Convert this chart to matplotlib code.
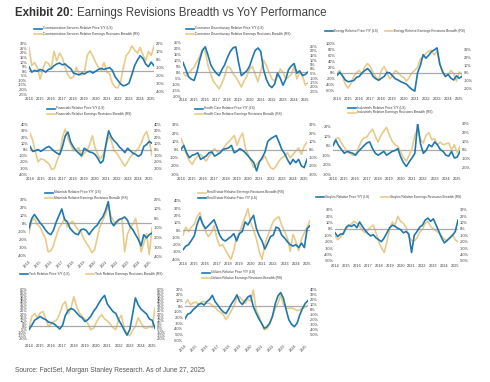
import numpy as np
import matplotlib.pyplot as plt
from matplotlib.lines import Line2D

plt.rcParams['font.family'] = ['Liberation Sans', 'DejaVu Sans']

W, H = 490, 382
BLUE = '#1f78ae'
TAN = '#e8cb8b'
GRAY = '#a9a9a9'
TXT = '#3a3a3a'
LW = 1.2

# quarterly dates, 2014 Q1 .. 2025 Q2
dates = 2014 + np.arange(46) / 4

comm_price = [5, -1, 1, 0, 2, 1, -1, 2, 3, 6, 8, 9, 7, 8, 5, 3, -2, -3, -4, -2, -3, -1, 0, -2,
              0, 2, 3, 2, 3, 4, 1, -6, -10, -14, -16, -15, -13, -4, 6, 12, 17, 14, 8, 5, 10, 6]
comm_breadth = [15, -8, -4, -10, -25, -12, -3, -5, -12, 10, -2, 8, 2, -10, -20, -24, -22, -10, -18, -20,
                -15, 5, 11, 4, -4, -10, -14, -4, -16, -18, -30, -35, -36, -28, -10, 5, 9, 17, 12, 8,
                15, 6, -2, 10, 5, 17]

disc_price = [8, 2, -4, -6, -7, 0, 10, 18, 21, 14, 6, 2, -1, -3, 2, 6, 12, 17, 20, 21, 8, -3, -1, 1,
              5, 12, 18, 20, 17, 2, -6, -11, -13, -10, -1, -5, -11, -6, 2, 5, 7, -1, 1, -3, -2, 0]
disc_breadth = [-4, -8, -5, -1, 2, 8, 14, 22, 20, 4, -6, -14, -18, -22, -16, -8, 3, 1, -5, -9, -14, -20,
                -13, -8, 0, 3, -6, -14, -2, 10, 4, -4, -11, -13, -9, 0, -4, -11, -9, -6, 3, -11, -4,
                -7, -18, -15]

energy_price = [-8, 2, -10, -24, -30, -28, -26, -15, -12, 0, 8, 15, 5, -12, -20, -25, -18, -12, 2, 0,
                -10, -20, -24, -30, -34, -38, -48, -56, -62, 0, 25, 62, 50, 60, 72, 78, 85, 30, 5, -12,
                -5, -18, -24, -10, -18, -12]
energy_breadth = [0, 3, -5, -15, -20, -14, -5, 0, 3, -2, 8, 12, 8, 0, -6, -9, 3, 8, 0, -8, -4, 3, 0, -4,
                  -6, -11, -6, 0, 3, 7, 18, 20, 25, 28, 29, 23, 28, 12, 0, -5, -3, 3, -1, -11, 1, -2]

fin_price = [5, -3, -2, 0, -3, 0, 3, 5, 1, -3, -6, -8, 5, 22, 28, 12, 4, -2, -6, -10, 2, -1, -4, -5,
             -8, -14, -22, -18, 8, 30, 20, 14, 10, 4, 0, -5, 2, -2, -6, -8, -11, -8, 5, 8, 13, 10]
fin_breadth = [26, 15, -4, -20, -15, -16, -20, -23, -32, -30, -18, -5, 20, 33, 18, 8, -2, 0, 3, -12,
               -6, -2, 8, 22, 3, -8, -15, -8, 5, 22, 14, -2, -6, -13, -20, -27, -20, -12, -7, -3,
               2, 10, 22, 29, 14, -10]

hc_price = [0, 5, -4, -10, -7, -6, -4, -12, -10, -8, -4, -3, -8, -6, -4, 0, 1, 2, 5, -4, -2, 1, -1, -4,
            -8, -12, -16, -26, -15, -10, -3, 10, 13, 15, 17, 9, 0, -5, -12, -18, -12, -16, -12, -20,
            -22, -12]
hc_breadth = [13, 5, -6, -14, -18, -12, -8, -6, -10, -14, -8, -4, 1, -3, -2, 0, 6, 9, 13, 17, 5, 14, 20,
              2, -6, -14, -22, -18, -14, -12, -8, -16, -22, -24, -20, -14, -10, -8, -4, -10, -6, -2,
              2, -6, 4, 9]

ind_price = [0, 6, 0, -4, -8, -6, -7, -8, -10, -6, -3, 0, 3, 4, -3, -8, -10, -8, -6, -10, -8, -6, -5,
             -3, -12, -18, -22, -17, -13, -8, 24, 2, -8, -5, 1, -1, 4, 1, -4, -6, -10, -11, -6, -13,
             -12, -6]
ind_breadth = [6, 13, 14, 8, 3, -2, -4, -6, -6, 2, 10, 14, 15, 20, 24, 16, 9, 17, 22, 26, 17, 10, 6, 4,
               -2, -9, -13, -6, 2, 17, 24, 12, 8, 17, 20, 12, 13, 6, 9, 6, 7, 8, 0, 6, -3, 4]

mat_price = [-6, 6, 11, 6, 1, -3, -8, -12, -14, -8, 2, 10, 18, 5, 2, -6, -10, -13, -14, -8, -7, -9, -14,
             -9, -5, -2, 4, 8, 16, 27, 2, -3, 2, 5, 6, 8, 4, -4, -8, -14, -20, -28, -14, -18, -14, -12]
mat_breadth = [-15, -2, 0, -6, -9, -15, -21, -35, -34, -28, -18, -10, -6, 0, -9, -5, -3, -8, -12, -14,
               -21, -26, -30, -36, -33, -20, -8, -2, 4, 14, 2, -3, -6, -2, 0, -35, -17, -10, -6, 0,
               -15, -35, -26, -16, -38, -10]

re_price = [-27, -22, -20, -14, -8, 8, 18, 8, 2, 6, 10, 14, 4, -7, -13, -15, -12, -9, -5, -15, -5, -2,
            11, 7, 14, 20, 2, -8, -15, -26, -18, -9, -7, 4, 2, -7, -11, -16, -20, -22, -20, -24, -18,
            -24, 2, 6]
re_breadth = [-7, 4, -2, 4, 8, 18, 24, 8, -2, -9, -4, 6, -11, -22, -20, -27, -34, -40, -28, -10, -4, 8,
              18, 29, 10, 0, -12, -29, -40, -20, -8, 2, 12, 16, 18, 6, -2, -11, -29, -6, -16, -28,
              -12, -4, 4, 13]

stap_price = [-6, -12, -8, -8, 2, 6, 4, 7, 2, 11, 4, -2, -7, -11, -9, -14, -17, -20, -14, -6, 2, 6, 4,
              1, -1, -6, -4, -8, -37, -10, -4, 3, 6, 14, 17, 12, 16, 6, -4, -14, -22, -18, -14, -10,
              -4, 14]
stap_breadth = [-11, -17, -13, -6, 0, 4, 8, 12, 9, 4, -2, -6, -2, 3, 6, -6, -20, -30, -37, -20, 0, 11,
                6, 20, 12, 9, 2, -12, -18, -19, -14, -5, 0, 9, 12, 4, 0, -3, -6, -11, -16, -19, -14,
                -9, -17, -20]

tech_price = [-5, 2, 10, 13, 16, 13, 11, 7, 6, 4, 0, -4, 2, 18, 26, 29, 27, 22, 17, 14, 8, 11, 16, 24,
              30, 38, 45, 50, 36, 30, 24, 21, 11, 3, -6, -14, -5, 20, 46, 35, 28, 24, 20, 12, 10, -3]
tech_breadth = [-3, 16, 21, 14, 22, 24, 12, 0, 5, 8, 11, 21, 35, 40, 20, 30, 48, 32, 22, 16, 12, 5, -5,
                -3, 6, 14, 19, 12, 9, 4, -2, -5, 11, 18, -3, -11, -15, -6, 0, 14, 6, -2, -3, 0, -2, 30]

util_price = [-22, -14, -12, -6, -2, 3, 5, 2, 8, 12, 19, 8, 2, -5, -10, -13, -5, 4, 11, 20, 8, 3, 10,
              16, 19, -1, -12, -22, -30, -39, -36, -30, -18, 4, 18, 24, 14, -6, -24, -32, -36, -30,
              -15, -4, 5, 10]
util_breadth = [12, 19, 9, 13, 14, 10, 14, 16, 12, 12, 8, 4, -2, -6, -10, -20, -12, -2, 8, 22, 25, 18,
                12, 20, 16, 38, -1, -12, -27, -40, -38, -28, -12, 2, 12, 28, 10, 2, 2, 3, 1, -2, -1,
                2, 5, 8]

years = list(range(2014, 2026))


def pct(v):
    return [f'{t:g}%' for t in v]


def rect(x0, y0, x1, y1):
    return [x0 / W, 1 - y1 / H, (x1 - x0) / W, (y1 - y0) / H]


def style(a):
    for s in a.spines.values():
        s.set_visible(False)
    a.tick_params(length=0, labelsize=2.8, pad=1.2, colors=TXT)


def panel(box, price, breadth, llim, lticks, rlim=None, rticks=None, zero_right=False, rotate=False):
    ax = fig.add_axes(rect(*box))
    ax.set_xlim(2014, 2025.25)
    ax.set_ylim(*llim)
    ax.set_yticks(lticks, pct(lticks))
    ax.set_xticks(years)
    if rotate:
        ax.set_xticklabels(years, rotation=45, ha='right', rotation_mode='anchor')
    style(ax)
    if rlim is None:
        ax.plot(dates, breadth, color=TAN, lw=LW, zorder=1)
        ax.axhline(0, color=GRAY, lw=0.9, zorder=1.5)
        ax.plot(dates, price, color=BLUE, lw=LW, zorder=2)
        return ax
    ax2 = ax.twinx()
    ax2.set_ylim(*rlim)
    ax2.set_yticks(rticks, pct(rticks))
    style(ax2)
    ax2.plot(dates, breadth, color=TAN, lw=LW)
    ax.set_zorder(ax2.get_zorder() + 1)
    ax.patch.set_visible(False)
    (ax2 if zero_right else ax).axhline(0, color=GRAY, lw=0.9, zorder=1)
    ax.plot(dates, price, color=BLUE, lw=LW, zorder=2)
    return ax


def legend(entries):
    for color, label, x, y in entries:
        fig.add_artist(Line2D([x / W, (x + 8) / W], [1 - y / H] * 2, color=color, lw=LW))
        fig.text((x + 9) / W, 1 - y / H, label, fontsize=2.3, va='center', color=TXT)


fig = plt.figure(figsize=(4.9, 3.82), dpi=100)

fig.text(15 / W, 1 - 13 / H, 'Exhibit 20:', fontsize=8.3, fontweight='bold', va='center', color='#333333')
fig.text(77 / W, 1 - 13 / H, 'Earnings Revisions Breadth vs YoY Performance', fontsize=8.3,
         va='center', color='#404040')

P = ' Relative Price Y/Y (LS)'
B = ' Relative Earnings Revisions Breadth (RS)'

# row 1
panel((29, 42, 154, 95), comm_price, comm_breadth, (-26, 32), list(range(30, -30, -5)),
      (-45, 22), list(range(20, -50, -10)))
legend([(BLUE, 'Communication Services' + P, 34, 28.5), (TAN, 'Communication Services' + B, 34, 33.5)])

panel((183, 42, 308, 96), disc_price, disc_breadth, (-20, 25), list(range(25, -25, -5)),
      (-30, 30), list(range(25, -30, -5)))
legend([(BLUE, 'Consumer Discretionary' + P, 186, 28.5), (TAN, 'Consumer Discretionary' + B, 186, 33.5)])

panel((337, 42, 462, 95), energy_price, energy_breadth, (-75, 105), list(range(100, -80, -20)),
      (-29, 40), list(range(30, -30, -10)))
legend([(BLUE, 'Energy' + P, 325, 31), (TAN, 'Energy' + B, 385, 31)])

# row 2
panel((30, 124, 152, 175), fin_price, fin_breadth, (-41, 41), list(range(40, -50, -10)),
      (-41, 41), list(range(40, -40, -10)))
legend([(BLUE, 'Financials' + P, 47, 108.5), (TAN, 'Financials' + B, 47, 113.5)])

panel((181, 124, 307, 175), hc_price, hc_breadth, (-31, 31), list(range(30, -40, -10)),
      (-31, 31), list(range(30, -40, -10)))
legend([(BLUE, 'Health Care' + P, 195, 108.5), (TAN, 'Health Care' + B, 195, 113.5)])

panel((333, 124, 460, 175), ind_price, ind_breadth, (-31, 23), list(range(20, -40, -10)),
      (-29, 30), list(range(30, -30, -10)), zero_right=True)
legend([(BLUE, 'Industrials' + P, 348, 108), (TAN, 'Industrials' + B, 348, 112.5)])

# row 3
panel((29, 196, 152, 258), mat_price, mat_breadth, (-43, 34), list(range(30, -50, -10)),
      (-41.5, 23.5), list(range(20, -50, -10)), rotate=True)
legend([(BLUE, 'Materials' + P, 45, 192.5), (TAN, 'Materials' + B, 45, 198)])

panel((183, 200, 310, 260), re_price, re_breadth, (-41, 41), list(range(40, -50, -10)))
legend([(TAN, 'Real Estate' + B, 198, 192.5), (BLUE, 'Real Estate' + P, 198, 198)])

panel((335, 208, 458, 262), stap_price, stap_breadth, (-52, 33), list(range(30, -60, -10)),
      (-52, 33), list(range(30, -60, -10)))
legend([(BLUE, 'Staples' + P, 316, 197), (TAN, 'Staples' + B, 381, 197)])

# row 4
panel((29, 288, 155, 342), tech_price, tech_breadth, (-25, 62), list(range(60, -25, -5)),
      (-25, 62), list(range(60, -25, -5)))
legend([(BLUE, 'Tech' + P, 20, 274), (TAN, 'Tech' + B, 86, 274)])

panel((185, 288, 308, 342), util_price, util_breadth, (-63, 32), list(range(30, -70, -10)),
      (-64, 42), list(range(40, -60, -10)), rotate=True)
legend([(BLUE, 'Utilities' + P, 202, 272.5), (TAN, 'Utilities' + B, 202, 278)])

fig.text(15 / W, 1 - 370 / H, 'Source: FactSet, Morgan Stanley Research. As of June 27, 2025',
         fontsize=4.8, va='center', color='#555555')

fig.savefig('out.png', dpi=100, facecolor='white')
